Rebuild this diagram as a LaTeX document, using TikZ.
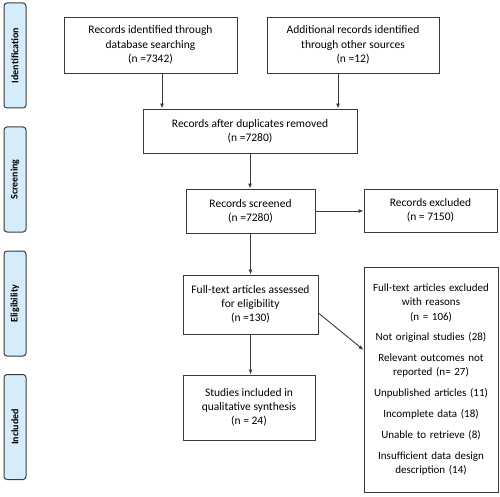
\documentclass[tikz,border=0pt]{standalone}
\usepackage{fontspec}
\setmainfont{Carlito}
\usepackage{tikz}
\usetikzlibrary{arrows.meta}
\definecolor{stagefill}{HTML}{D6ECFA}
\definecolor{linegray}{HTML}{3A3A3A}

\begin{document}
\begin{tikzpicture}[x=1pt,y=-1pt,
		box/.style={draw=linegray,line width=0.9pt,align=center,inner sep=2pt,
			font=\fontsize{11.5}{14.3}\selectfont},
		stage/.style={draw=linegray,line width=1pt,fill=stagefill,rounded corners=3pt,
			rotate=90,minimum width=105pt,minimum height=22pt,inner sep=0pt,
			font=\fontsize{10}{12}\selectfont\bfseries},
		arr/.style={-{Latex[length=5pt,width=4pt]},draw=linegray,line width=0.9pt}]
			\useasboundingbox (0,0) rectangle (500,497);
			% stage bars
			\node[stage] (sid) at (15,55.5) {Identification};
			\node[stage] (sscr) at (15,179.5) {Screening};
			\node[stage] (selig) at (15,303.5) {Eligibility};
			\node[stage] (sincl) at (15,427) {Included};
			% boxes
			\node[box,minimum width=173pt,minimum height=56pt] (id) at (150.5,45)
				{Records identified through\\database searching\\(n =7342)};
			\node[box,minimum width=172pt,minimum height=56pt] (add) at (353,45)
				{Additional records identified\\through other sources\\(n =12)};
			\node[box,minimum width=214pt,minimum height=44pt] (dup) at (250,131)
				{Records after duplicates removed\\(n =7280)};
			\node[box,minimum width=129pt,minimum height=44pt] (scr) at (250.5,211)
				{Records screened\\(n =7280)};
			\node[box,minimum width=133pt,minimum height=43pt] (exc) at (430.5,210.5)
				{Records excluded\\(n = 7150)};
			\node[box,minimum width=135pt,minimum height=59pt] (full) at (250.5,304.5)
				{Full-text articles assessed\\for eligibility\\(n =130)};
			\node[box,minimum width=132pt,minimum height=65pt] (incl) at (249,407.5)
				{Studies included in\\qualitative synthesis\\(n = 24)};
			\node[box,minimum width=134pt,minimum height=225pt,text width=130pt,
				font=\fontsize{11}{14.3}\selectfont] (reas) at (431,379.5)
				{Full-text articles excluded\\with reasons\\(n = 106)\\[6.5pt]
				Not original studies (28)\\[6.5pt]
				Relevant outcomes not\\reported (n= 27)\\[6.5pt]
				Unpublished articles (11)\\[6.5pt]
				Incomplete data (18)\\[6.5pt]
				Unable to retrieve (8)\\[6.5pt]
				Insufficient data design\\description (14)};
			% connectors
			\coordinate (fromfull) at ([yshift=-8.5pt]full.east);
			\coordinate (toreas) at ([yshift=29.5pt]reas.west);
			\draw[arr] ([xshift=-88pt]dup.north |- id.south) -- ([xshift=-88pt]dup.north);
			\draw[arr] ([xshift=88pt]dup.north |- add.south) -- ([xshift=88pt]dup.north);
			\draw[arr] (dup.south) -- (dup.south |- scr.north);
			\draw[arr] (scr.east) -- (scr.east -| exc.west);
			\draw[arr] (scr.south) -- (scr.south |- full.north);
			\draw[arr] (full.south) -- (full.south |- incl.north);
			\draw[arr] (fromfull) -- (toreas);
		\end{tikzpicture}
\end{document}
